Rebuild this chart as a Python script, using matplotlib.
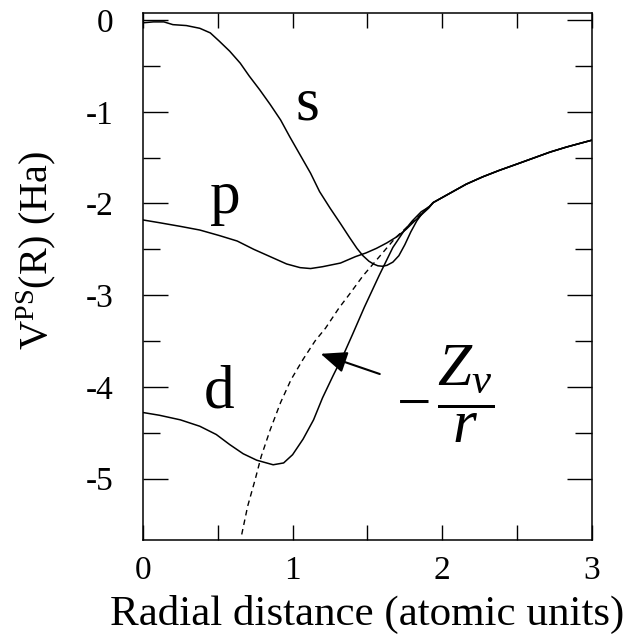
import numpy as np
import matplotlib
matplotlib.use("Agg")
import matplotlib.pyplot as plt

plt.rcParams["font.family"] = ["Liberation Serif", "DejaVu Serif"]
plt.rcParams["mathtext.fontset"] = "custom"
plt.rcParams["mathtext.rm"] = "Liberation Serif"
plt.rcParams["mathtext.it"] = "Liberation Serif:italic"
plt.rcParams["axes.unicode_minus"] = False

# s, p, d pseudopotentials up to the point where they join
r_s = [0.00, 0.07, 0.14, 0.20, 0.29, 0.38, 0.45, 0.51, 0.58, 0.65, 0.71, 0.78,
       0.85, 0.92, 0.98, 1.05, 1.12, 1.18, 1.25, 1.32, 1.38, 1.43, 1.47, 1.51,
       1.54, 1.57, 1.60, 1.63, 1.67, 1.71, 1.75, 1.79, 1.83, 1.87, 1.91]
v_s = [-0.03, -0.02, -0.02, -0.05, -0.06, -0.09, -0.14, -0.23, -0.34, -0.47, -0.61, -0.76,
       -0.92, -1.09, -1.27, -1.47, -1.67, -1.87, -2.05, -2.22, -2.37, -2.49, -2.57, -2.63,
       -2.66, -2.68, -2.685, -2.675, -2.64, -2.57, -2.45, -2.31, -2.19, -2.10, -2.04]

r_p = [0.00, 0.11, 0.25, 0.38, 0.51, 0.63, 0.74, 0.85, 0.96, 1.05, 1.12, 1.20,
       1.32, 1.42, 1.49, 1.56, 1.63, 1.70, 1.76, 1.81, 1.87, 1.91]
v_p = [-2.18, -2.21, -2.25, -2.29, -2.35, -2.41, -2.50, -2.58, -2.66, -2.70, -2.71, -2.69,
       -2.65, -2.58, -2.54, -2.49, -2.43, -2.36, -2.28, -2.20, -2.11, -2.05]

r_d = [0.00, 0.11, 0.25, 0.38, 0.49, 0.58, 0.67, 0.76, 0.87, 0.94, 1.00, 1.07,
       1.14, 1.20, 1.27, 1.34, 1.40, 1.48, 1.58, 1.67, 1.74, 1.80, 1.86, 1.91]
v_d = [-4.28, -4.31, -4.36, -4.43, -4.52, -4.63, -4.73, -4.80, -4.85, -4.83, -4.74, -4.57,
       -4.36, -4.12, -3.88, -3.65, -3.43, -3.13, -2.78, -2.48, -2.31, -2.19, -2.09, -2.04]

# common tail beyond the core radius
r_tail = [1.94, 2.05, 2.16, 2.27, 2.38, 2.50, 2.61, 2.72, 2.83, 2.92, 3.00]
v_tail = [-1.99, -1.89, -1.79, -1.71, -1.64, -1.57, -1.505, -1.44, -1.385, -1.345, -1.31]

# -Zv/r (dashed)
r_coul = [0.66, 0.70, 0.75, 0.79, 0.85, 0.92, 0.99, 1.07, 1.15, 1.22, 1.31, 1.38,
          1.47, 1.58, 1.69, 1.81, 1.88, 1.94]
v_coul = [-5.61, -5.30, -5.01, -4.76, -4.47, -4.17, -3.92, -3.70, -3.50, -3.36, -3.14, -2.99,
          -2.79, -2.58, -2.37, -2.19, -2.08, -1.99]

fig = plt.figure(figsize=(6.27, 6.36), dpi=100)
ax = fig.add_axes([0.228, 0.151, 0.716, 0.829])

for r, v in [(r_s, v_s), (r_p, v_p), (r_d, v_d)]:
    ax.plot(r + r_tail, v + v_tail, color="black", lw=1.1)
ax.plot(r_coul, v_coul, color="black", lw=1.0, ls=(0, (4, 3)))

ax.text(1.10, -1.085, "s", fontsize=44, ha="center", va="baseline")
ax.text(0.55, -2.10, "p", fontsize=44, ha="center", va="baseline")
ax.text(0.51, -4.23, "d", fontsize=44, ha="center", va="baseline")

ax.text(2.02, -4.08, r"$-\,\dfrac{Z_v}{r}$", fontsize=44, ha="center", va="center")
ax.annotate("", xy=(1.17, -3.63), xytext=(1.60, -3.87),
            arrowprops=dict(arrowstyle="-|>,head_length=0.8,head_width=0.33",
                            mutation_scale=20, color="black", lw=1.5))

ax.set_xlim(0, 3)
ax.set_ylim(-5.67, 0.08)
ax.set_xticks([0, 1, 2, 3])
ax.set_xticks([0.5, 1.5, 2.5], minor=True)
ax.set_yticks([0, -1, -2, -3, -4, -5])
ax.set_yticks([-0.5, -1.5, -2.5, -3.5, -4.5], minor=True)
ax.tick_params(axis="x", which="both", direction="in", top=True, length=11, width=1.0,
               labelsize=24, pad=11)
ax.tick_params(axis="y", which="major", direction="in", right=True, length=18, width=1.0,
               labelsize=24, pad=21)
ax.tick_params(axis="y", which="minor", direction="in", right=True, length=12.5, width=1.0)
for sp in ax.spines.values():
    sp.set_linewidth(1.1)

ax.set_xlabel("Radial distance (atomic units)", fontsize=31, labelpad=7)
fig.text(0.057, 0.607, r"V$^{\rm PS}$(R) (Ha)", fontsize=29, rotation=90,
         ha="center", va="center")

fig.savefig("out.png", dpi=100)
